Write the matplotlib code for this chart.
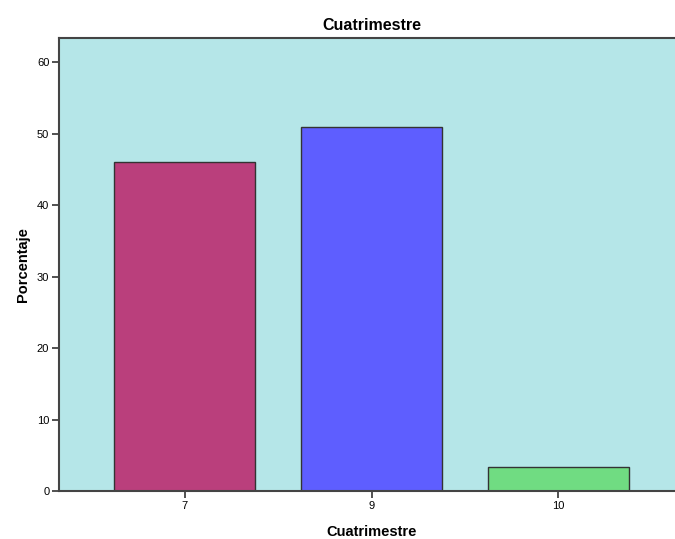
import matplotlib
matplotlib.use("Agg")
import matplotlib.pyplot as plt

categories = ["7", "9", "10"]
percentages = [46.0, 50.9, 3.35]
bar_colors = ["#BA3F7C", "#5E5EFF", "#70DC82"]

plt.rcParams["font.family"] = ["Liberation Sans", "DejaVu Sans"]

fig = plt.figure(figsize=(6.75, 5.39), dpi=100)
ax = fig.add_axes([59 / 675, 48 / 539, 625 / 675, 453 / 539])
ax.set_facecolor("#B5E6E8")

x = range(len(categories))
ax.bar(x, percentages, width=0.755, color=bar_colors,
       edgecolor="#333333", linewidth=1.0, zorder=2)

ax.set_xlim(-0.672, 2.672)
ax.set_ylim(0, 63.4)
ax.set_xticks(list(x))
ax.set_xticklabels(categories)
ax.set_yticks([0, 10, 20, 30, 40, 50, 60])

for side in ["left", "bottom", "top", "right"]:
    ax.spines[side].set_color("#444444")
    ax.spines[side].set_linewidth(1.5)

ax.tick_params(axis="both", direction="out", length=5, width=1.2,
               color="#333333", labelsize=8, pad=2)

ax.set_title("Cuatrimestre", fontsize=11.5, fontweight="bold", pad=6)
ax.set_xlabel("Cuatrimestre", fontsize=10.5, fontweight="bold", labelpad=10)
ax.set_ylabel("Porcentaje", fontsize=10.5, fontweight="bold", labelpad=5)

plt.savefig("out.png", dpi=100)
plt.close()
